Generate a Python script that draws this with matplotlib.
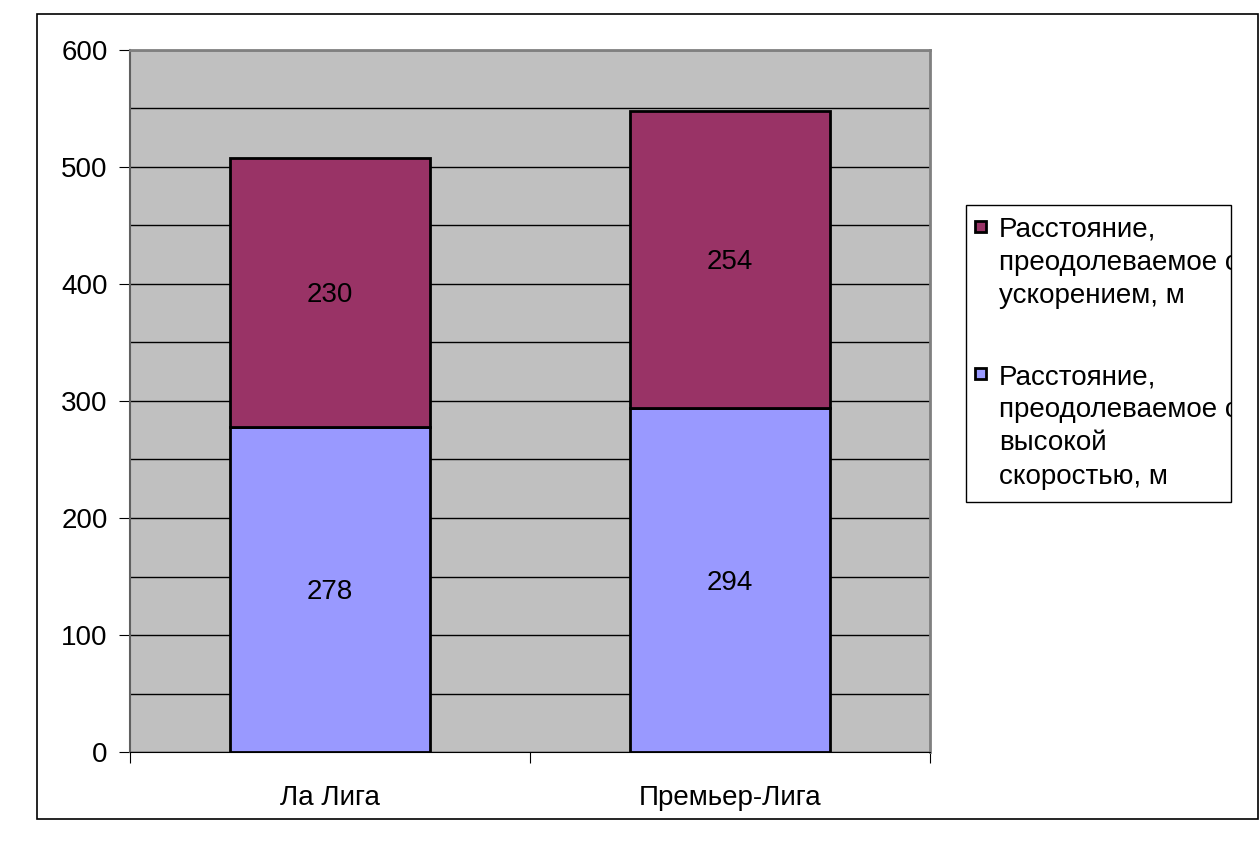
import numpy as np
import matplotlib.pyplot as plt
from matplotlib.patches import Rectangle

# Данные
leagues = ['Ла Лига', 'Премьер-Лига']
high_speed = [278, 294]
accel = [230, 254]
lbl_accel = 'Расстояние,\nпреодолеваемое с\nускорением, м'
lbl_speed = 'Расстояние,\nпреодолеваемое с\nвысокой\nскоростью, м'

plt.rcParams['font.family'] = ['Liberation Sans', 'DejaVu Sans']
W, H = 1260, 856

fig = plt.figure(figsize=(W / 100, H / 100), dpi=100)
ax = fig.add_axes([130 / W, 1 - 752 / H, 800 / W, 702 / H])

# внешняя рамка диаграммы
fig.patches.append(Rectangle((37 / W, 1 - 819 / H), 1221 / W, 805 / H,
                             transform=fig.transFigure, fill=False,
                             edgecolor='black', linewidth=1.2))

ax.set_facecolor('#C0C0C0')
x = np.arange(len(leagues)) + 0.5
b1 = ax.bar(x, high_speed, width=0.5, color='#9999FF', edgecolor='black',
            linewidth=2, zorder=3)
b2 = ax.bar(x, accel, width=0.5, bottom=high_speed, color='#993366',
            edgecolor='black', linewidth=2, zorder=3)

for i in range(len(leagues)):
    ax.text(x[i], high_speed[i] / 2, str(high_speed[i]), ha='center',
            va='center_baseline', fontsize=20, zorder=4)
    ax.text(x[i], high_speed[i] + accel[i] / 2, str(accel[i]), ha='center',
            va='center_baseline', fontsize=20, zorder=4)

ax.set_xlim(0, 2)
ax.set_ylim(0, 600)
ax.set_yticks(range(0, 601, 100))
ax.set_yticks(range(50, 600, 100), minor=True)
ax.grid(axis='y', which='both', color='black', linewidth=1, zorder=1)
ax.tick_params(axis='y', which='major', direction='out', length=8,
               labelsize=20, pad=8)
ax.tick_params(axis='y', which='minor', length=0)
ax.set_xticks([0, 1, 2])
ax.set_xticks(x, minor=True)
ax.set_xticklabels(leagues, minor=True, fontsize=20)
ax.set_xticklabels([])
ax.tick_params(axis='x', which='major', direction='out', length=8)
ax.tick_params(axis='x', which='minor', length=0, pad=24)

for s in ['top', 'right']:
    ax.spines[s].set_color('#808080')
    ax.spines[s].set_linewidth(2)
ax.spines['left'].set_color('#606060')
ax.spines['left'].set_linewidth(1.5)
ax.spines['bottom'].set_color('black')

# легенда (вручную, как в Excel: маркер у первой строки, текст обрезан рамкой)
frame = Rectangle((966 / W, 1 - 502 / H), 265 / W, 297 / H,
                  transform=fig.transFigure, facecolor='white',
                  edgecolor='black', linewidth=1)
fig.patches.append(frame)
for lbl, color, top in [(lbl_accel, '#993366', 217), (lbl_speed, '#9999FF', 364)]:
    fig.patches.append(Rectangle((975 / W, 1 - (top + 15) / H), 11 / W, 11 / H,
                                 transform=fig.transFigure, facecolor=color,
                                 edgecolor='black', linewidth=2))
    t = fig.text(999 / W, 1 - top / H, lbl, ha='left', va='top', fontsize=20,
                 linespacing=1.36)
    t.set_clip_path(frame)

fig.savefig('out.png', dpi=100)
